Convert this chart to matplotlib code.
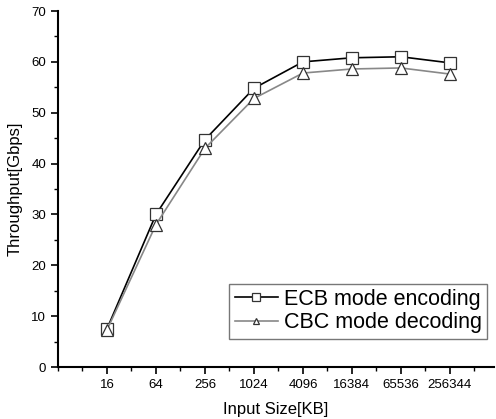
import matplotlib.pyplot as plt
from matplotlib.ticker import MultipleLocator

plt.rcParams["font.family"] = ["Liberation Sans", "DejaVu Sans"]

# Input sizes and throughput
sizes = ["16", "64", "256", "1024", "4096", "16384", "65536", "256344"]
ecb_encoding = [7.5, 30.0, 44.7, 54.8, 60.0, 60.8, 61.0, 59.8]
cbc_decoding = [7.3, 28.0, 43.0, 52.8, 57.8, 58.6, 58.8, 57.6]

x = list(range(1, len(sizes) + 1))

fig = plt.figure(figsize=(4.96, 4.19), dpi=100)
ax = fig.add_axes([58 / 496, 52 / 419, (494 - 58) / 496, (367 - 11) / 419])

ax.plot(x, ecb_encoding, color="black", linewidth=1.2, marker="s",
        markersize=8.5, markerfacecolor="white", markeredgecolor="#333333",
        markeredgewidth=0.9, label="ECB mode encoding")
ax.plot(x, cbc_decoding, color="#888888", linewidth=1.2, marker="^",
        markersize=8, markerfacecolor="white", markeredgecolor="#333333",
        markeredgewidth=0.9, label="CBC mode decoding")

ax.set_xlim(0, 8.9)
ax.set_ylim(0, 70)
ax.set_xticks(x)
ax.set_xticklabels(sizes)
ax.xaxis.set_minor_locator(MultipleLocator(0.5))
ax.yaxis.set_major_locator(MultipleLocator(10))
ax.yaxis.set_minor_locator(MultipleLocator(5))

for side in ["top", "right"]:
    ax.spines[side].set_visible(False)
for side in ["left", "bottom"]:
    ax.spines[side].set_linewidth(1.5)

ax.tick_params(which="major", direction="out", length=5, width=1.2, labelsize=9.5)
ax.tick_params(which="minor", direction="out", length=3, width=1.0)

ax.set_xlabel("Input Size[KB]", fontsize=12, labelpad=8)
ax.set_ylabel("Throughput[Gbps]", fontsize=12, labelpad=6)

leg = ax.legend(loc="lower right", bbox_to_anchor=(0.985, 0.08), fontsize=15.5,
                frameon=True, fancybox=False, borderpad=0.25, markerscale=0.6,
                handlelength=2.0, handletextpad=0.3, labelspacing=0.1,
                borderaxespad=0)
leg.get_frame().set_edgecolor("#555555")
leg.get_frame().set_linewidth(1.0)

fig.savefig("out.png", dpi=100)
